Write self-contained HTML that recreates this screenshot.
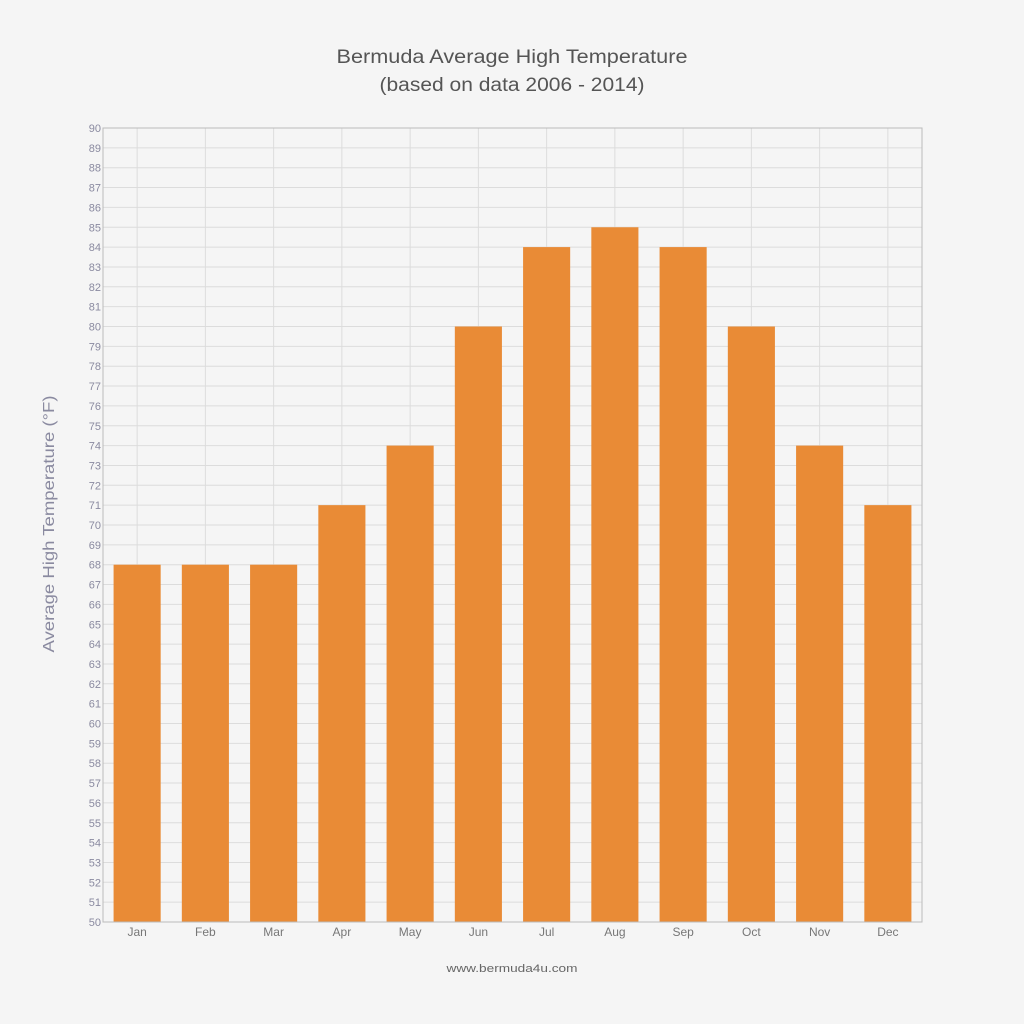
<!DOCTYPE html>
<html><head><meta charset="utf-8"><style>
body{margin:0;background:#f5f5f5;}
svg{display:block;font-family:"Liberation Sans",sans-serif;}
</style></head><body>
<svg id="c" width="1024" height="1024">
<rect width="1024" height="1024" fill="#f5f5f5"/>
<text x="512" y="63" text-anchor="middle" font-size="19" fill="#555" textLength="351" lengthAdjust="spacingAndGlyphs">Bermuda Average High Temperature</text>
<text x="512" y="91" text-anchor="middle" font-size="19" fill="#555" textLength="265" lengthAdjust="spacingAndGlyphs">(based on data 2006 - 2014)</text>
<text transform="translate(54,524) rotate(-90)" text-anchor="middle" font-size="16" fill="#8a8aa0" textLength="257" lengthAdjust="spacingAndGlyphs">Average High Temperature (°F)</text>
<text x="512" y="972" text-anchor="middle" font-size="11" fill="#666" textLength="131" lengthAdjust="spacingAndGlyphs">www.bermuda4u.com</text>
<g id="grid"></g><g id="bars"></g><g id="ticks"></g>
</svg>
<script>
const months=["Jan","Feb","Mar","Apr","May","Jun","Jul","Aug","Sep","Oct","Nov","Dec"];
const temps=[68,68,68,71,74,80,84,85,84,80,74,71];
const yMin=50,yMax=90;
const L=103,R=922,T=128,B=922;
const ns="http://www.w3.org/2000/svg";
const band=(R-L)/months.length;
const x=i=>L+band*i+band/2;
const y=v=>B-(v-yMin)/(yMax-yMin)*(B-T);
function mk(tag,attrs,parent){const e=document.createElementNS(ns,tag);for(const k in attrs)e.setAttribute(k,attrs[k]);document.getElementById(parent).appendChild(e);return e;}
for(let v=yMin;v<=yMax;v++){
  const g=mk('line',{x1:L,x2:R,y1:y(v),y2:y(v),stroke:'#dcdcdc','stroke-width':1},'grid');
  
  
  const t=mk('text',{x:L-2,y:y(v)+4,'text-anchor':'end','font-size':11,fill:'#8a8aa0'},'ticks');
  t.textContent=v;
  
  
}
months.forEach((m,i)=>{
  const g=mk('line',{x1:x(i),x2:x(i),y1:T,y2:B,stroke:'#dcdcdc','stroke-width':1},'grid');
  
  
  const w=band*0.69;
  const b=mk('rect',{x:x(i)-w/2,y:y(temps[i]),width:w,height:B-y(temps[i]),fill:'#e98b36'},'bars');
  
  
  const t=mk('text',{x:x(i),y:B+14,'text-anchor':'middle','font-size':12,fill:'#777'},'ticks');
  t.textContent=m;
  
  
});
const f=mk('rect',{x:L,y:T,width:R-L,height:B-T,fill:'none',stroke:'#bbb','stroke-width':1},'ticks');


</script>
</body></html>
